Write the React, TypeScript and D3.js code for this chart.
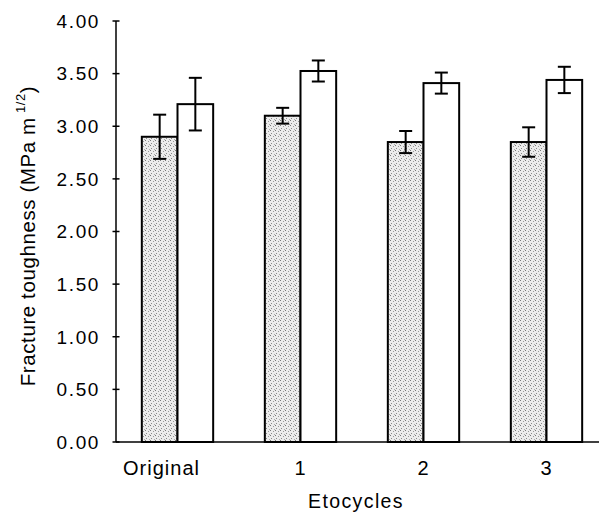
import * as d3 from "d3";

const categories = ["Original", "1", "2", "3"];
const grayValues = [2.9, 3.1, 2.85, 2.85];
const grayErrors = [0.21, 0.075, 0.105, 0.14];
const whiteValues = [3.21, 3.525, 3.41, 3.44];
const whiteErrors = [0.25, 0.1, 0.1, 0.125];
const yTicks = [0, 0.5, 1, 1.5, 2, 2.5, 3, 3.5, 4];

const WIDTH = 599;
const HEIGHT = 513;
const MARGIN = { top: 21, left: 116, bottom: 71 };

export default function App() {
  const x = d3
    .scaleBand<string>()
    .domain(categories)
    .range([MARGIN.left, MARGIN.left + 492])
    .paddingInner(0.42)
    .paddingOuter(0.21);
  const sub = d3.scaleBand<string>().domain(["g", "w"]).range([0, x.bandwidth()]);
  const y = d3.scaleLinear().domain([0, 4]).range([HEIGHT - MARGIN.bottom, MARGIN.top]);
  const font = "'Liberation Sans', Arial, Helvetica, sans-serif";

  const series = [
    { key: "g", values: grayValues, errors: grayErrors, fill: "url(#stipple)" },
    { key: "w", values: whiteValues, errors: whiteErrors, fill: "#fff" },
  ];

  return (
    <svg
      width={WIDTH}
      height={HEIGHT}
      style={{ position: "absolute", left: 0, top: 0, background: "#fff" }}
      fontFamily={font}
    >
      <defs>
        <pattern id="stipple" width={5} height={5} patternUnits="userSpaceOnUse">
          <rect width={5} height={5} fill="#ececec" />
          <rect x={0} y={0} width={1} height={1} fill="#777" />
          <rect x={3} y={1} width={1} height={1} fill="#999" />
          <rect x={1} y={3} width={1} height={1} fill="#8a8a8a" />
          <rect x={4} y={4} width={1} height={1} fill="#aaa" />
        </pattern>
      </defs>

      {series.map((s) =>
        categories.map((c, i) => {
          const bx = (x(c) ?? 0) + (sub(s.key) ?? 0);
          const bw = sub.bandwidth();
          const cx = bx + bw / 2;
          const v = s.values[i];
          const e = s.errors[i];
          return (
            <g key={s.key + c}>
              <rect
                x={bx}
                y={y(v)}
                width={bw}
                height={y(0) - y(v)}
                fill={s.fill}
                stroke="#000"
                strokeWidth={2}
              />
              <g stroke="#000" strokeWidth={2}>
                <line x1={cx} x2={cx} y1={y(v + e)} y2={y(v - e)} />
                <line x1={cx - 6.5} x2={cx + 6.5} y1={y(v + e)} y2={y(v + e)} />
                <line x1={cx - 6.5} x2={cx + 6.5} y1={y(v - e)} y2={y(v - e)} />
              </g>
            </g>
          );
        })
      )}

      {/* axes */}
      <line x1={MARGIN.left} x2={MARGIN.left} y1={y(4)} y2={y(0)} stroke="#000" strokeWidth={1.5} />
      <line x1={MARGIN.left} x2={WIDTH} y1={y(0)} y2={y(0)} stroke="#000" strokeWidth={1.5} />
      {yTicks.map((t) => (
        <g key={t}>
          <line x1={MARGIN.left - 3.5} x2={MARGIN.left + 3.5} y1={y(t)} y2={y(t)} stroke="#000" strokeWidth={1.5} />
          <text
            x={MARGIN.left - 16}
            y={y(t)}
            dy="0.36em"
            textAnchor="end"
            fontSize={19}
            letterSpacing={1.6}
          >
            {d3.format(".2f")(t)}
          </text>
        </g>
      ))}
      {categories.map((c, i) => (
        <text
          key={c}
          x={(x(c) ?? 0) + x.bandwidth() / 2 + (i === 0 ? -16 : 0)}
          y={475}
          textAnchor="middle"
          fontSize={20}
          letterSpacing={1}
        >
          {c}
        </text>
      ))}
      <text x={356} y={508} textAnchor="middle" fontSize={19.5} letterSpacing={1.4}>
        Etocycles
      </text>
      <text
        transform={`translate(35,${236}) rotate(-90)`}
        textAnchor="middle"
        fontSize={20.5}
        letterSpacing={0.6}
      >
        Fracture toughness (MPa m
        <tspan dy={-10} fontSize={13}>
          {" "}1/2
        </tspan>
        <tspan dy={10}>)</tspan>
      </text>
    </svg>
  );
}
